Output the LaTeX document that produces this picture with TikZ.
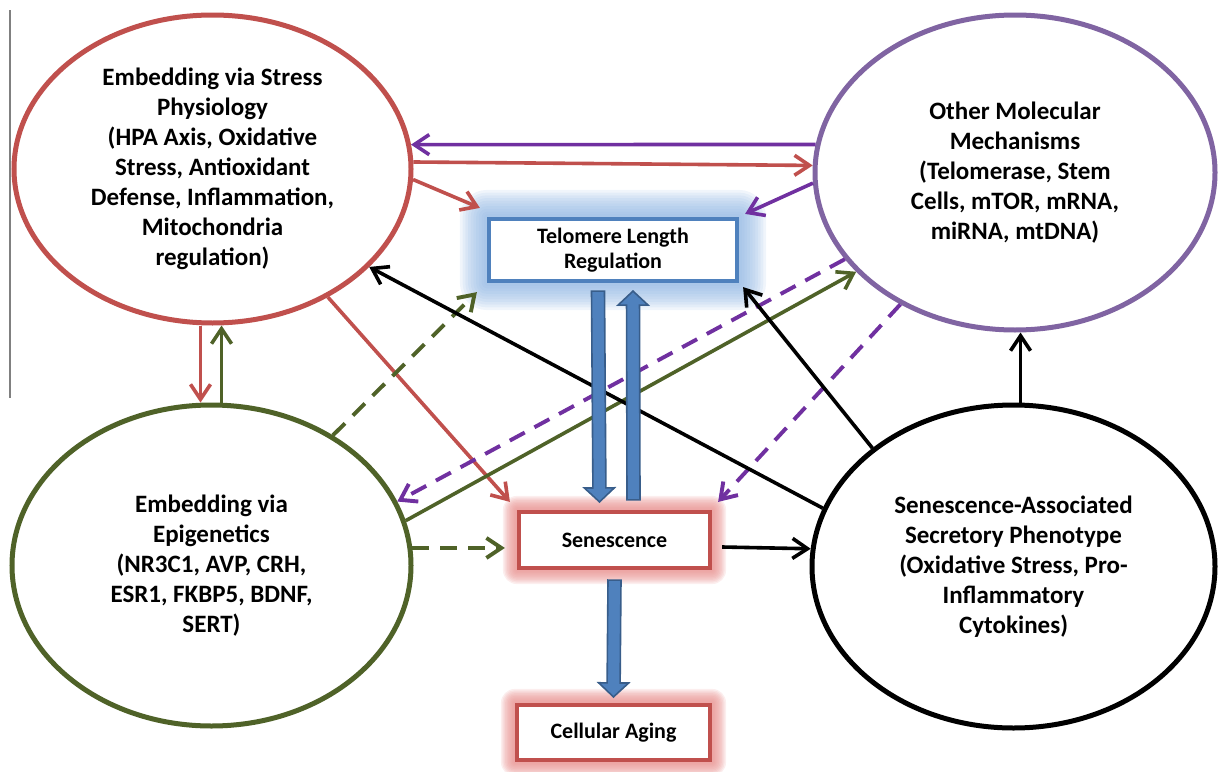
\documentclass[tikz,border=0pt]{standalone}
\usepackage{fontspec}
\setmainfont{Carlito}
\usetikzlibrary{shapes.geometric,arrows.meta,calc,backgrounds}
\definecolor{cred}{HTML}{C0504D}
\definecolor{cpurp}{HTML}{7030A0}
\definecolor{cpurpe}{HTML}{8064A2}
\definecolor{cgreen}{HTML}{4F6228}
\definecolor{cblue}{HTML}{4F81BD}
\definecolor{cblued}{HTML}{385D8A}
\definecolor{glowb}{HTML}{8DB4E2}
\definecolor{glowr}{HTML}{E8908E}
\newcommand\glowbox[4]{%
  \foreach \i in {1,...,10}{%
    \pgfmathsetmacro\dd{#3*\i}%
    \fill[#2, opacity=#4, rounded corners=\dd pt]
      ([shift={(-\dd,-\dd)}]#1.north west) rectangle ([shift={(\dd,\dd)}]#1.south east);
  }}
\newcommand\blockarr[2]{%
  \path (#1) coordinate (ba1) (#2) coordinate (ba2);
  \path ($(ba2)!14pt!(ba1)$) coordinate (bah);
  \filldraw[blockarrow]
    ($(ba1)!6.5pt!90:(ba2)$) -- ($(bah)!6.5pt!-90:(ba1)$) -- ($(bah)!15pt!-90:(ba1)$) --
    (ba2) -- ($(bah)!15pt!90:(ba1)$) -- ($(bah)!6.5pt!90:(ba1)$) --
    ($(ba1)!6.5pt!-90:(ba2)$) -- cycle;}
\begin{document}
\begin{tikzpicture}[x=1pt,y=-1pt,
  ell/.style={ellipse, draw, line width=5pt, fill=white, inner sep=0pt, align=center,
    font=\fontsize{25}{30}\selectfont\bfseries},
  box/.style={rectangle, draw, line width=4.2pt, fill=white, inner sep=0pt, align=center,
    font=\fontsize{22}{25}\selectfont\bfseries},
  arr/.style={line width=3.6pt, -{Straight Barb[length=15pt,width=20pt]}},
  dsh/.style={arr, line width=3.9pt, dash pattern=on 17pt off 11pt},
  blockarrow/.style={fill=cblue, draw=cblued, line width=1.6pt, line join=miter}]
\useasboundingbox (0,0) rectangle (1218,771);
\draw[gray, line width=1.5pt] (10,10) -- (10,398);

\node[ell, draw=cred, minimum width=397pt, minimum height=308pt] (red) at (212.5,169)
  {Embedding via Stress\\Physiology\\(HPA Axis, Oxidative\\Stress, Antioxidant\\Defense, Inflammation,\\Mitochondria\\regulation)};
\node[ell, draw=cgreen, minimum width=399pt, minimum height=321pt] (green) at (211.5,565.5)
  {Embedding via\\Epigenetics\\(NR3C1, AVP, CRH,\\ESR1, FKBP5, BDNF,\\SERT)};
\node[ell, draw=cpurpe, minimum width=400pt, minimum height=315pt] (purp) at (1015,172.5)
  {Other Molecular\\Mechanisms\\(Telomerase, Stem\\Cells, mTOR, mRNA,\\miRNA, mtDNA)};
\node[ell, draw=black, minimum width=403pt, minimum height=323pt] (blk) at (1013.5,566.5)
  {Senescence-Associated\\Secretory Phenotype\\(Oxidative Stress, Pro-\\Inflammatory\\Cytokines)};

\node[box, draw=cblue, minimum width=248pt, minimum height=62pt] (tel) at (613,250)
  {Telomere Length\\Regulation};
\node[box, draw=cred, minimum width=191pt, minimum height=56pt] (sen) at (614.5,540)
  {Senescence};
\node[box, draw=cred, minimum width=193pt, minimum height=55pt] (age) at (613.5,732.5)
  {Cellular Aging};

\begin{scope}[on background layer]
  \glowbox{tel}{glowb}{2.7}{0.13}
  \glowbox{sen}{glowr}{1.4}{0.15}
  \glowbox{age}{glowr}{1.4}{0.15}
\end{scope}

\draw[arr, cpurp] (purp.172.5) -- (red.7);
\draw[arr, cred] (red.2) -- (purp.178);
\draw[arr, cred] (red.-3) -- ([shift={(-7,-9)}]tel.north west);
\draw[arr, cpurp] (purp.183) -- ([shift={(6,-3)}]tel.north east);
\draw[arr, cred] (red.-48) -- ([shift={(-7,-8)}]sen.north west);
\draw[arr, cred] ([xshift=-12pt]red.south) -- ([xshift=-12pt]red.south |- green.north);
\draw[arr, cgreen] ([xshift=10pt]green.north) -- ([xshift=10pt]green.north |- red.south);
\draw[dsh, cgreen] (green.47) -- ([shift={(-10,9)}]tel.south west);
\draw[arr, cgreen] (green.13.7) -- (purp.212);
\draw[dsh, cpurp] (purp.207) -- (green.19.4);
\draw[dsh, cpurp] (purp.229.4) -- ([shift={(6,-8)}]sen.north east);
\draw[dsh, cgreen] (green.5) -- ([xshift=-12pt]green.5 -| sen.west);
\draw[arr, black] ([shift={(10,7)}]sen.east) -- (blk.175);
\draw[arr, black] (blk.163) -- (red.-32);
\draw[arr, black] (blk.140.8) -- ([shift={(4,4)}]tel.south east);
\draw[arr, black] ([xshift=7pt]blk.north) -- ([xshift=7pt]blk.north |- purp.south);

\blockarr{$(tel.south)+(-15,8)$}{$(sen.north)+(-15,-8)$}
\blockarr{$(sen.north)+(19,-10)$}{$(tel.south)+(20,8)$}
\blockarr{$(sen.south)+(0,10)$}{$(age.north)+(0,-6)$}
\end{tikzpicture}
\end{document}
